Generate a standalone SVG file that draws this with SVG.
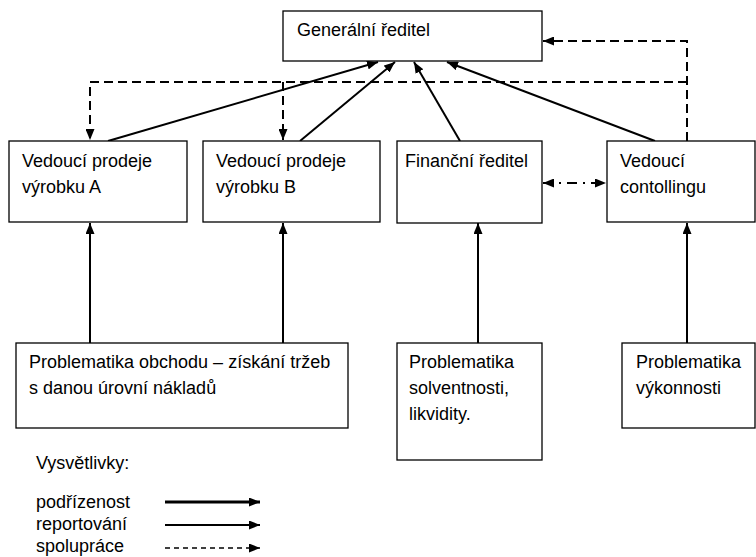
<svg xmlns="http://www.w3.org/2000/svg" width="756" height="557" viewBox="0 0 756 557">
<style>
  .box { fill: #ffffff; stroke: #000000; stroke-width: 1.3; }
  .t { font-family: "Liberation Sans", Arial, sans-serif; font-size: 18px; fill: #000000; }
  .solid { fill: none; stroke: #000000; stroke-width: 2; }
  .thick { fill: none; stroke: #000000; stroke-width: 3; }
  .dash { fill: none; stroke: #000000; stroke-width: 2; stroke-dasharray: 9 5; }
  .dashdot { fill: none; stroke: #000000; stroke-width: 2; stroke-dasharray: 10 6 2 6; }
  .ldash { fill: none; stroke: #000000; stroke-width: 1.5; stroke-dasharray: 5 4; }
</style>
<defs>
  <marker id="ah" markerUnits="userSpaceOnUse" markerWidth="11" markerHeight="9" refX="11" refY="4.5" orient="auto-start-reverse">
    <path d="M0,0 L11,4.5 L0,9 Z" fill="#000000"/>
  </marker>
</defs>
<rect width="756" height="557" fill="#ffffff"/>

<g id="connectors">
  <!-- reporting arrows to general director -->
  <line class="solid" x1="108" y1="141" x2="378" y2="62" marker-end="url(#ah)"/>
  <line class="solid" x1="300" y1="141" x2="395" y2="62" marker-end="url(#ah)"/>
  <line class="solid" x1="460" y1="141" x2="414" y2="62" marker-end="url(#ah)"/>
  <line class="solid" x1="655" y1="141" x2="447" y2="62" marker-end="url(#ah)"/>
  <!-- subordination arrows from bottom boxes -->
  <line class="solid" x1="90" y1="343" x2="90" y2="223" marker-end="url(#ah)"/>
  <line class="solid" x1="283" y1="343" x2="283" y2="223" marker-end="url(#ah)"/>
  <line class="solid" x1="478" y1="343" x2="478" y2="223" marker-end="url(#ah)"/>
  <line class="solid" x1="687" y1="343" x2="687" y2="223" marker-end="url(#ah)"/>
  <!-- cooperation dashed -->
  <path class="dash" d="M687,141 V41 H543" marker-end="url(#ah)"/>
  <path class="dash" d="M687,82 H90 V140" marker-end="url(#ah)"/>
  <path class="dash" d="M283,82 V140" marker-end="url(#ah)"/>
  <!-- dash-dot double arrow -->
  <line class="dashdot" x1="543" y1="183" x2="606" y2="183" marker-start="url(#ah)" marker-end="url(#ah)"/>
</g>

<g id="gen">
  <rect class="box" x="283" y="11" width="259" height="50"/>
  <text class="t" x="297" y="36">Generální ředitel</text>
</g>
<g id="vedA">
  <rect class="box" x="9" y="141" width="178" height="81"/>
  <text class="t" x="22" y="167">Vedoucí prodeje</text>
  <text class="t" x="22" y="193">výrobku A</text>
</g>
<g id="vedB">
  <rect class="box" x="203" y="141" width="177" height="81"/>
  <text class="t" x="216" y="167">Vedoucí prodeje</text>
  <text class="t" x="216" y="193">výrobku B</text>
</g>
<g id="fin">
  <rect class="box" x="397" y="141" width="145" height="82"/>
  <text class="t" x="405" y="167">Finanční ředitel</text>
</g>
<g id="ctrl">
  <rect class="box" x="607" y="141" width="148" height="81"/>
  <text class="t" x="620" y="167">Vedoucí</text>
  <text class="t" x="620" y="193">contollingu</text>
</g>
<g id="obchod">
  <rect class="box" x="16" y="343" width="332" height="85"/>
  <text class="t" x="29" y="368">Problematika obchodu – získání tržeb</text>
  <text class="t" x="29" y="394">s danou úrovní nákladů</text>
</g>
<g id="solv">
  <rect class="box" x="397" y="343" width="145" height="117"/>
  <text class="t" x="409" y="368">Problematika</text>
  <text class="t" x="409" y="394">solventnosti,</text>
  <text class="t" x="409" y="420">likvidity.</text>
</g>
<g id="vyk">
  <rect class="box" x="622" y="343" width="133" height="85"/>
  <text class="t" x="636" y="368">Problematika</text>
  <text class="t" x="636" y="394">výkonnosti</text>
</g>

<g id="legend">
  <text class="t" x="36" y="469">Vysvětlivky:</text>
  <text class="t" x="36" y="508">podřízenost</text>
  <text class="t" x="36" y="530">reportování</text>
  <text class="t" x="36" y="552">spolupráce</text>
  <line class="thick" x1="165" y1="502" x2="260" y2="502" marker-end="url(#ah)"/>
  <line class="solid" x1="165" y1="525" x2="260" y2="525" marker-end="url(#ah)"/>
  <line class="ldash" x1="165" y1="548" x2="260" y2="548" marker-end="url(#ah)"/>
</g>
</svg>
